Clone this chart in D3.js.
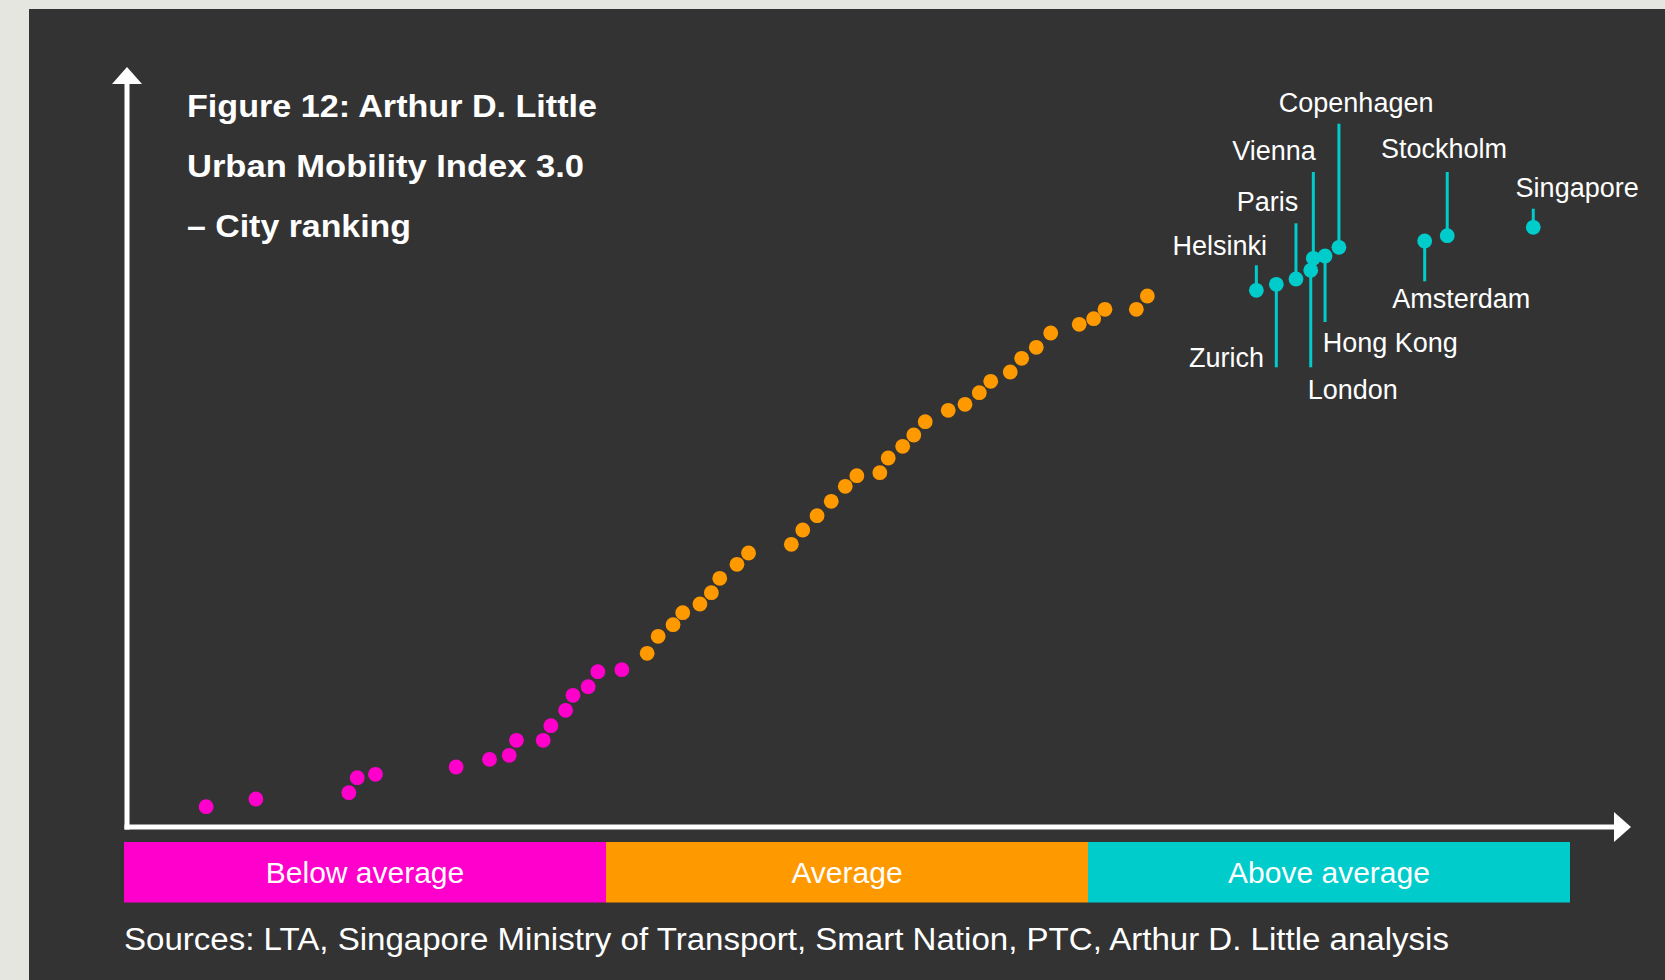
<!DOCTYPE html>
<html><head><meta charset="utf-8">
<script src="https://cdn.jsdelivr.net/npm/d3@7"></script>
<style>html,body{margin:0;padding:0;background:#e6e6e1;overflow:hidden}svg{display:block}</style>
</head><body><svg id="c" width="1665" height="980"></svg>
<script>
// ---------- data ----------
const titleLines = ["Figure 12: Arthur D. Little", "Urban Mobility Index 3.0", "– City ranking"];
const categories = ["Below average", "Average", "Above average"];
const sourceText = "Sources: LTA, Singapore Ministry of Transport, Smart Nation, PTC, Arthur D. Little analysis";

// Below average cities (magenta)
const belowX = [5.68, 9.12, 15.55, 16.13, 17.39, 22.97, 25.28, 26.64, 27.14, 28.99, 29.52, 30.54, 31.05, 32.10, 32.77, 34.43];
const belowY = [1.93, 2.70, 3.33, 4.83, 5.17, 5.90, 6.67, 7.07, 8.57, 8.57, 10.03, 11.57, 13.07, 13.93, 15.43, 15.63];

// Average cities (orange)
const avgX = [36.18, 36.94, 37.97, 38.64, 39.83, 40.62, 41.20, 42.39, 43.19, 46.15, 46.94, 47.93, 48.91, 49.88, 50.68, 52.27, 52.85,
              53.85, 54.62, 55.41, 57.00, 58.16, 59.15, 59.94, 61.29, 62.08, 63.09, 64.09, 66.06, 67.06, 67.84, 70.01, 70.77];
const avgY = [17.27, 18.97, 20.13, 21.33, 22.20, 23.33, 24.77, 26.17, 27.30, 28.17, 29.60, 31.03, 32.47, 33.97, 35.03, 35.33, 36.80,
              37.97, 39.10, 40.43, 41.57, 42.17, 43.33, 44.47, 45.40, 46.77, 47.87, 49.30, 50.17, 50.73, 51.67, 51.67, 53.00];

// Above average cities (cyan, labelled)
const aboveCities = ["Helsinki", "Zurich", "Paris", "London", "Vienna", "Hong Kong", "Copenhagen", "Amsterdam", "Stockholm", "Singapore"];
const aboveX = [78.31, 79.69, 81.05, 82.07, 82.25, 83.06, 84.02, 89.95, 91.51, 97.46];
const aboveY = [53.57, 54.17, 54.70, 55.57, 56.77, 57.00, 57.87, 58.50, 59.03, 59.87];

// ---------- layout / style ----------
const W = 1665, H = 980;
const colors = {bg: "#333333", outer: "#e6e6e1", below: "#ff00cc", avg: "#ff9900", above: "#00cccc", text: "#ffffff"};
const FONT = "'Liberation Sans', Arial, Helvetica, sans-serif";
// label leader placement (pixel offsets from the dot)
const labelLayout = {
  "Helsinki":   {stem: -25,    dx: 10.7, dy: -35.3, anchor: "end"},
  "Zurich":     {stem: 83,     dx: -12.3, dy: 83,   anchor: "end"},
  "Paris":      {stem: -55.7,  dx: 2.3,  dy: -68.3, anchor: "end"},
  "London":     {stem: 97,     dx: -3,   dy: 129,   anchor: "start"},
  "Vienna":     {stem: -86.3,  dx: 2.4,  dy: -98.3, anchor: "end"},
  "Hong Kong":  {stem: 66,     dx: -2.3, dy: 95.7,  anchor: "start"},
  "Copenhagen": {stem: -123.6, dx: 17.2, dy: -135.6, anchor: "middle"},
  "Amsterdam":  {stem: 40.3,   dx: 36.6, dy: 67.3,  anchor: "middle"},
  "Stockholm":  {stem: -63.7,  dx: -3.3, dy: -77.4, anchor: "middle"},
  "Singapore":  {stem: -18.6,  dx: 43.9, dy: -30.6, anchor: "middle"}
};

const svg = d3.select("#c");
svg.append("rect").attr("width", W).attr("height", H).attr("fill", colors.outer);
svg.append("rect").attr("x", 29).attr("y", 9).attr("width", W - 29).attr("height", H - 9).attr("fill", colors.bg);

const x = d3.scaleLinear().domain([0, 100]).range([124, 1570]);
const y = d3.scaleLinear().domain([0, 70]).range([826, 126]);
const band = d3.scaleBand().domain(categories).range([x(0), x(100)]).padding(0);
const catColor = d3.scaleOrdinal().domain(categories).range([colors.below, colors.avg, colors.above]);

// axes (arrows)
const axisG = svg.append("g");
const ax0 = 127, ay0 = 827;
axisG.append("line").attr("x1", ax0).attr("x2", ax0).attr("y1", ay0 + 2.5).attr("y2", 84)
  .attr("stroke", "#fff").attr("stroke-width", 5);
axisG.append("path").attr("d", `M${ax0 - 15},84 L${ax0 + 15},84 L${ax0},67 Z`).attr("fill", "#fff");
axisG.append("line").attr("x1", ax0 - 2.5).attr("x2", 1615).attr("y1", ay0).attr("y2", ay0)
  .attr("stroke", "#fff").attr("stroke-width", 5);
axisG.append("path").attr("d", `M1614,${ay0 - 15} L1614,${ay0 + 15} L1631,${ay0} Z`).attr("fill", "#fff");

// title
svg.append("g").selectAll("text").data(titleLines).join("text")
  .attr("x", 187).attr("y", (d, i) => 117 + i * 60)
  .attr("fill", colors.text).attr("font-family", FONT).attr("font-weight", "bold").attr("font-size", 32)
  .attr("textLength", (d, i) => [410, 397, 224][i]).attr("lengthAdjust", "spacingAndGlyphs")
  .text(d => d);

// category bar
const barG = svg.append("g");
barG.selectAll("rect").data(categories).join("rect")
  .attr("x", d => band(d)).attr("y", 842).attr("width", band.bandwidth()).attr("height", 60.5)
  .attr("fill", d => catColor(d));
barG.selectAll("text").data(categories).join("text")
  .attr("x", d => band(d) + band.bandwidth() / 2).attr("y", 883)
  .attr("text-anchor", "middle").attr("fill", colors.text)
  .attr("font-family", FONT).attr("font-size", 30).text(d => d);

// source
svg.append("text").attr("x", 124).attr("y", 950).attr("fill", colors.text)
  .attr("font-family", FONT).attr("font-size", 31)
  .attr("textLength", 1325).attr("lengthAdjust", "spacingAndGlyphs")
  .text(sourceText);

// points
const R = 7.4;
const below = belowX.map((v, i) => ({x: v, y: belowY[i]}));
const avg = avgX.map((v, i) => ({x: v, y: avgY[i]}));
const above = aboveCities.map((c, i) => ({name: c, x: aboveX[i], y: aboveY[i]}));

svg.append("g").selectAll("circle").data(below).join("circle")
  .attr("cx", d => x(d.x)).attr("cy", d => y(d.y)).attr("r", R).attr("fill", colors.below);
svg.append("g").selectAll("circle").data(avg).join("circle")
  .attr("cx", d => x(d.x)).attr("cy", d => y(d.y)).attr("r", R).attr("fill", colors.avg);

const ann = svg.append("g");
ann.selectAll("line").data(above).join("line")
  .attr("x1", d => x(d.x)).attr("x2", d => x(d.x))
  .attr("y1", d => y(d.y)).attr("y2", d => y(d.y) + labelLayout[d.name].stem)
  .attr("stroke", colors.above).attr("stroke-width", 3);
ann.selectAll("circle").data(above).join("circle")
  .attr("cx", d => x(d.x)).attr("cy", d => y(d.y)).attr("r", R).attr("fill", colors.above);
ann.selectAll("text").data(above).join("text")
  .attr("x", d => x(d.x) + labelLayout[d.name].dx)
  .attr("y", d => y(d.y) + labelLayout[d.name].dy)
  .attr("text-anchor", d => labelLayout[d.name].anchor)
  .attr("fill", colors.text).attr("font-family", FONT).attr("font-size", 27)
  .text(d => d.name);
</script>
</body></html>
